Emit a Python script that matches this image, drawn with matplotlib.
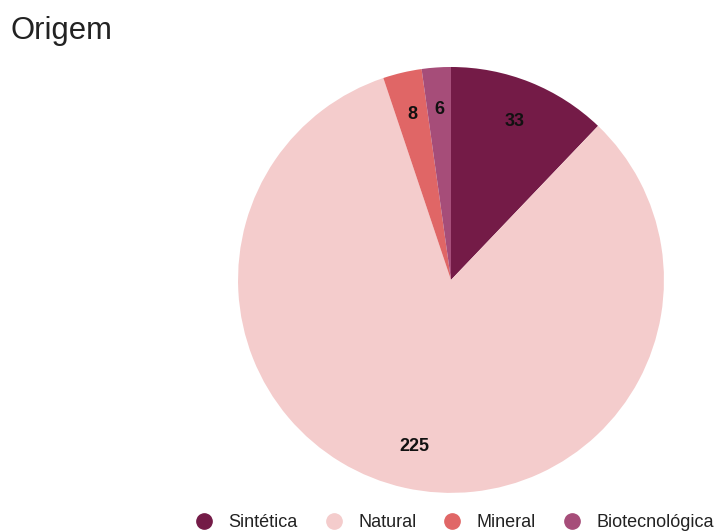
import matplotlib.pyplot as plt
from matplotlib.lines import Line2D

plt.rcParams['font.family'] = ['Liberation Sans', 'DejaVu Sans']

labels = ['Sintética', 'Natural', 'Mineral', 'Biotecnológica']
values = [33, 225, 8, 6]
colors = ['#741b47', '#f4cccc', '#e06666', '#a64d79']

fig = plt.figure(figsize=(7.17, 5.32), dpi=100)
ax = fig.add_axes([0.332, 0.0733, 0.594, 0.801])

wedges, texts = ax.pie(values, colors=colors, startangle=90, counterclock=False,
                       labels=[str(v) for v in values], labeldistance=0.8,
                       textprops=dict(fontsize=13, fontweight='bold', color='#111111'))
for t in texts:
    t.set_horizontalalignment('center')
    t.set_verticalalignment('center')
ax.set_xlim(-1, 1)
ax.set_ylim(-1, 1)
ax.set_aspect('equal')

fig.text(0.014, 0.942, 'Origem', fontsize=22.3, color='#222222', va='center', ha='left')

handles = [Line2D([], [], marker='o', linestyle='none', markersize=11,
                  markerfacecolor=c, markeredgecolor=c) for c in colors]
fig.legend(handles, labels, loc='center right', bbox_to_anchor=(1.006, 0.017),
           ncol=4, frameon=False, fontsize=13, handletextpad=0.85, columnspacing=1.5,
           handlelength=1.0, borderaxespad=0, labelcolor='#222222')

fig.savefig('out.png', dpi=100)
